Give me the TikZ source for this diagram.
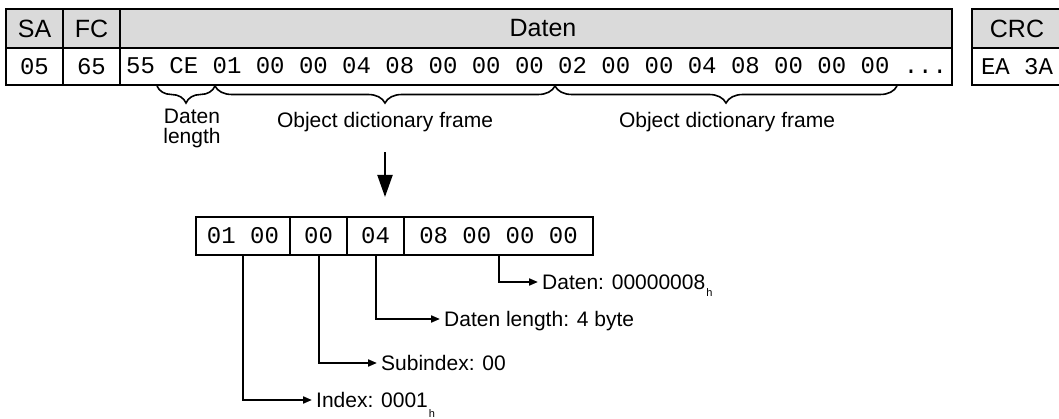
\documentclass[tikz,border=0pt]{standalone}
\usepackage{fontspec}
\setmainfont{Liberation Sans}
\setmonofont{Liberation Mono}
\usetikzlibrary{arrows.meta,decorations.pathreplacing}
\definecolor{headgray}{RGB}{218,218,218}
\begin{document}
\begin{tikzpicture}[x=1pt,y=-1pt,
  hcell/.style={draw, line width=2pt, fill=headgray, inner sep=0pt, minimum height=39pt,
    font=\fontsize{25}{30}\selectfont},
  vcell/.style={draw, line width=2pt, fill=white, inner sep=0pt, minimum height=37pt,
    font=\ttfamily\fontsize{24}{28}\selectfont},
  bcell/.style={draw, line width=2pt, fill=white, inner sep=0pt, minimum height=38pt,
    font=\ttfamily\fontsize{24}{28}\selectfont},
  monotext/.style={inner sep=0pt, font=\ttfamily\fontsize{24}{28}\selectfont},
  toplabel/.style={inner sep=0pt, text height=15pt, text depth=0pt,
    font=\fontsize{21}{25}\selectfont},
  sidelabel/.style={inner xsep=4pt, inner ysep=0pt, text height=15pt, text depth=0pt,
    anchor=west, font=\fontsize{21}{25}\selectfont},
  arr/.style={line width=2pt, -{Triangle[length=9pt,width=7pt]}},
  bigarr/.style={line width=2pt, -{Triangle[length=22pt,width=15pt]}},
  bracestyle/.style={line width=1.6pt, decorate, decoration={brace, amplitude=17pt}}
]
\useasboundingbox (0,0) rectangle (1059,419);
\fill[white] (0,0) rectangle (1059,419);
\clip (0,0) rectangle (1059,419);

% header row
\node[hcell, minimum width=57pt] (sa) at (34.5,28.5) {SA};
\node[hcell, minimum width=57pt] (fc) at (91.5,28.5) {FC};
\node[hcell, minimum width=832pt] (dh) at (536,28.5) {\hspace*{14pt}Daten};
\node[hcell, minimum width=90pt] (crc) at (1017,28.5) {CRC};
% value row
\node[vcell, minimum width=57pt] (sav) at (34.5,66.5) {05};
\node[vcell, minimum width=57pt] (fcv) at (91.5,66.5) {65};
\node[vcell, minimum width=832pt] (dv) at (536,66.5) {};
\node[vcell, minimum width=90pt] (crcv) at (1017,66.5) {EA 3A};
\node[monotext, anchor=base west] (dtext) at (126,74)
  {55 CE 01 00 00 04 08 00 00 00 02 00 00 04 08 00 00 00 ...};

% braces
\draw[bracestyle] (215,86) -- (157,86);
\draw[bracestyle] (555,86) -- (215,86);
\draw[bracestyle] (897,86) -- (555,86);

% brace labels
\node[inner sep=0pt, anchor=north, align=center, font=\fontsize{21}{20}\selectfont]
  (dl) at (192,109) {Daten\\length};
\node[toplabel] (odf1) at (385,120.5) {Object dictionary frame};
\node[toplabel] (odf2) at (727,120.5) {Object dictionary frame};

% bottom frame
\node[bcell, minimum width=94pt] (b1) at (243,236) {01 00};
\node[bcell, minimum width=57pt] (b2) at (318.5,236) {00};
\node[bcell, minimum width=57pt] (b3) at (375.5,236) {04};
\node[bcell, minimum width=189pt] (b4) at (498.5,236) {08 00 00 00};

% big arrow
\draw[bigarr, shorten <=24pt, shorten >=19pt] (odf1.south) -- (odf1.south |- b3.north);

% labels of the fields
\node[sidelabel] (dat) at (538,282)
  {Daten: 00000008\rlap{\kern1pt\raisebox{-7pt}{\fontsize{11}{11}\selectfont h}}};
\node[sidelabel] (dlen) at (440,319) {Daten length: 4 byte};
\node[sidelabel] (sub) at (377,363) {Subindex: 00};
\node[sidelabel] (idx) at (312,400)
  {Index: 0001\rlap{\kern1pt\raisebox{-10pt}{\fontsize{11}{11}\selectfont h}}};

\draw[arr] (b4.south) |- (dat.west);
\draw[arr] (b3.south) |- (dlen.west);
\draw[arr] (b2.south) |- (sub.west);
\draw[arr] (b1.south) |- (idx.west);
\end{tikzpicture}
\end{document}
